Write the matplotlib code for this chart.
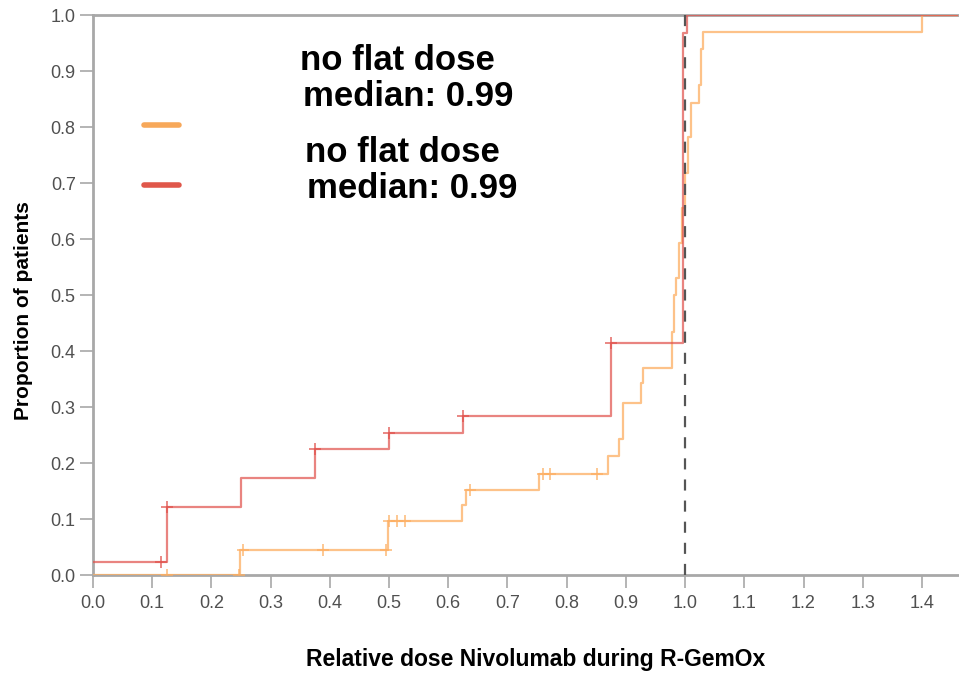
import numpy as np
import matplotlib
matplotlib.use("Agg")
from matplotlib import pyplot as plt

plt.rcParams['font.family'] = ['Liberation Sans', 'DejaVu Sans']

# cumulative proportion steps (x = relative dose, y = proportion)
red_x = [0.0, 0.125, 0.25, 0.375, 0.5, 0.625, 0.875, 0.996, 1.004, 1.46]
red_y = [0.023, 0.121, 0.173, 0.225, 0.254, 0.284, 0.414, 0.968, 1.0, 1.0]
red_cens_x = [0.115, 0.125, 0.375, 0.5, 0.625, 0.875]
red_cens_y = [0.023, 0.121, 0.225, 0.254, 0.284, 0.414]

orange_x = [0.0, 0.249, 0.498, 0.623, 0.630, 0.753, 0.869, 0.889, 0.895, 0.926, 0.929,
            0.978, 0.982, 0.985, 0.990, 0.995, 1.000, 1.005, 1.010, 1.024, 1.027, 1.030, 1.40, 1.46]
orange_y = [0.0, 0.045, 0.096, 0.125, 0.152, 0.180, 0.212, 0.243, 0.307, 0.343, 0.370,
            0.434, 0.500, 0.530, 0.593, 0.655, 0.718, 0.782, 0.843, 0.875, 0.940, 0.970, 1.0, 1.0]
orange_cens_x = [0.125, 0.246, 0.253, 0.389, 0.495, 0.500, 0.513, 0.527, 0.637, 0.760, 0.772, 0.851]
orange_cens_y = [0.0, 0.0, 0.045, 0.045, 0.045, 0.096, 0.096, 0.096, 0.152, 0.180, 0.180, 0.180]

x_ticks = np.round(np.arange(0, 1.41, 0.1), 1)
y_ticks = np.round(np.arange(0, 1.01, 0.1), 1)

legend_text = ['no flat dose', 'median: 0.99']

c_orange = '#fdae61'
c_red = '#e0504a'
c_axis = '#a8a8a8'

fig = plt.figure(figsize=(9.59, 6.73), dpi=100)
ax = fig.add_axes([0.097, 0.1456, 0.903, 0.8321])

ax.step(orange_x, orange_y, where='post', color=c_orange, lw=1.6, alpha=0.75, zorder=3)
ax.step(red_x, red_y, where='post', color=c_red, lw=1.6, alpha=0.7, zorder=4)
ax.plot(orange_cens_x, orange_cens_y, ls='none', marker='+', ms=9, mew=1.2,
        color=c_orange, alpha=0.8, zorder=3)
ax.plot(red_cens_x, red_cens_y, ls='none', marker='+', ms=9, mew=1.2,
        color=c_red, alpha=0.8, zorder=4)
ax.axvline(1.0, color='#555555', lw=1.6, dashes=(5, 4.5), zorder=5)

ax.set_xlim(0, 1.4626)
ax.set_ylim(0, 1.0)
ax.set_xticks(x_ticks)
ax.set_xticklabels([f"{v:.1f}" for v in x_ticks])
ax.set_yticks(y_ticks)
ax.set_yticklabels([f"{v:.1f}" for v in y_ticks])
ax.tick_params(axis='both', colors=c_axis, labelcolor='#505050', labelsize=13,
               length=9.5, width=1.2, direction='out')
ax.tick_params(axis='x', pad=5)
ax.tick_params(axis='y', pad=3)

for side in ['top', 'left', 'bottom']:
    ax.spines[side].set_color(c_axis)
    ax.spines[side].set_linewidth(2)
ax.spines['right'].set_visible(False)

ax.set_xlabel('Relative dose Nivolumab during R-GemOx', fontsize=16.5, fontweight='bold')
ax.xaxis.set_label_coords(0.511, -0.13)
ax.set_ylabel('Proportion of patients', fontsize=15, fontweight='bold')
ax.yaxis.set_label_coords(-0.069, 0.473)

# legend entries drawn by hand
ax.plot([0.086, 0.146], [0.804, 0.804], color='#f7a85a',
        lw=4, solid_capstyle='round', clip_on=False)
ax.plot([0.086, 0.146], [0.696, 0.696], color='#e0574a',
        lw=4, solid_capstyle='round', clip_on=False)
for (x0, y0), (x1, y1) in [((0.350, 0.902), (0.355, 0.838)),
                           ((0.358, 0.738), (0.361, 0.673))]:
    ax.text(x0, y0, legend_text[0], fontsize=25, fontweight='bold', va='baseline', ha='left')
    ax.text(x1, y1, legend_text[1], fontsize=25, fontweight='bold', va='baseline', ha='left')

fig.savefig('out.png', dpi=100)
